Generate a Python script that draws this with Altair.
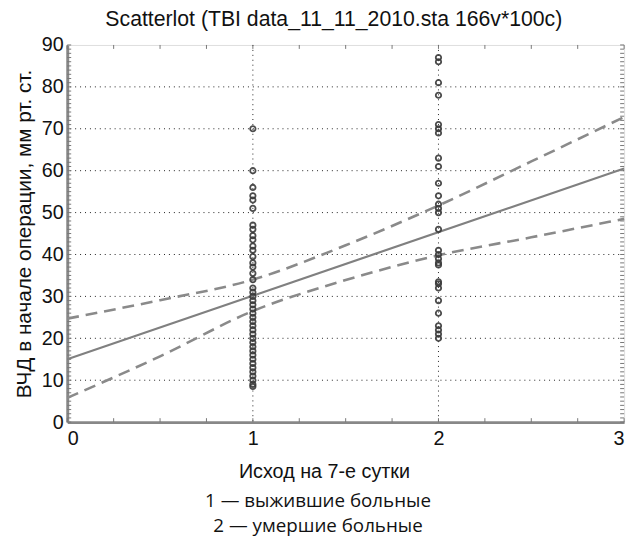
import altair as alt
import pandas as pd

# ---- data ----
survived = [70, 60, 56, 54, 53, 51, 47, 46, 44.5, 43.5, 42, 41, 39.5, 38, 37, 35.5,
            34, 32, 31, 30, 29, 28, 27, 26, 25, 24, 23, 22, 21, 20, 19, 18, 17,
            16, 15, 14, 13, 12, 11, 10, 9, 8.5]
died = [87, 86, 81, 78, 71, 70, 69, 63, 61, 57, 54, 52, 51, 50, 46, 41, 40, 39,
        38, 37.5, 33.5, 33, 32, 29, 26, 23, 22, 21, 20]
fit_x = [0, 3]
fit_y = [15.0, 60.5]
band_x = [0, 0.5, 1, 1.5, 2, 2.5, 3]
band_upper = [24.7, 29.1, 34.0, 42.2, 51.7, 62.2, 72.8]
band_lower = [5.8, 15.7, 26.5, 33.9, 39.8, 44.1, 48.5]
x_labels = [0, 1, 2, 3]
y_labels = [0, 10, 20, 30, 40, 50, 60, 70, 80, 90]
x_grid = [1, 2]
y_grid = [10, 20, 30, 40, 50, 60, 70, 80]
x_minor = [i * 0.25 for i in range(13)]
y_minor = list(range(0, 91))
caption1 = "1 — выжившие больные"
caption2 = "2 — умершие больные"

W, H = 564, 382
FONT = "Liberation Sans"

pts = pd.DataFrame({
    "x": [1] * len(survived) + [2] * len(died),
    "y": survived + died,
})
fit = pd.DataFrame({"x": fit_x, "y": fit_y})
band = pd.DataFrame({"x": band_x * 2, "y": band_upper + band_lower,
                     "b": ["u"] * len(band_x) + ["l"] * len(band_x)})

xs = alt.Scale(domain=[0, 3], nice=False, zero=False)
ys = alt.Scale(domain=[0, 90], nice=False, zero=False)

x_axis = alt.Axis(
    values=x_labels, title="Исход на 7-е сутки", grid=False, ticks=False,
    labelFontSize=20, labelFont=FONT, labelColor="#111", labelPadding=7,
    titleFont=FONT, titleFontSize=20, titleFontWeight="normal", titleColor="#111",
    titlePadding=13, titleX=260, domainColor="#888", domainWidth=3)
y_axis = alt.Axis(
    values=y_labels, title="ВЧД в начале операции, мм рт. ст.", grid=False, ticks=False,
    labelFontSize=20, labelFont=FONT, labelColor="#111", labelPadding=4,
    titleFont=FONT, titleFontSize=21, titleFontWeight="normal", titleColor="#111",
    titlePadding=7, domainColor="#888", domainWidth=3)

X = alt.X("x:Q", scale=xs, axis=x_axis)
Y = alt.Y("y:Q", scale=ys, axis=y_axis)

gx = alt.Chart(pd.DataFrame({"x": x_grid})).mark_rule(
    color="#222", strokeDash=[1, 4], strokeWidth=1
).encode(x=X)
gy = alt.Chart(pd.DataFrame({"y": y_grid})).mark_rule(
    color="#222", strokeDash=[1, 4], strokeWidth=1
).encode(y=Y)

tx_b = alt.Chart(pd.DataFrame({"x": x_minor})).mark_rule(color="#777", strokeWidth=1).encode(
    x=X, y=alt.value(H - 4), y2=alt.value(H))
tx_t = alt.Chart(pd.DataFrame({"x": x_minor})).mark_rule(color="#777", strokeWidth=1).encode(
    x=X, y=alt.value(0), y2=alt.value(4))
ty_l = alt.Chart(pd.DataFrame({"y": y_minor})).mark_rule(color="#777", strokeWidth=1).encode(
    y=Y, x=alt.value(0), x2=alt.value(4))
ty_r = alt.Chart(pd.DataFrame({"y": y_minor})).mark_rule(color="#777", strokeWidth=1).encode(
    y=Y, x=alt.value(W - 4), x2=alt.value(W))

bands = alt.Chart(band).mark_line(
    color="#8a8a8a", strokeWidth=2.6, strokeDash=[12, 7], interpolate="monotone"
).encode(x=X, y=Y, detail="b:N")
fitl = alt.Chart(fit).mark_line(color="#808080", strokeWidth=2.2).encode(x=X, y=Y)

points = alt.Chart(pts).mark_point(
    shape="circle", filled=False, size=30, color="#3a3a3a", strokeWidth=1.8, opacity=0.9
).encode(x=X, y=Y)

cap1 = alt.Chart(pd.DataFrame({"t": [caption1]})).mark_text(
    font="Open Sans", fontSize=19, color="#111", align="center", baseline="alphabetic"
).encode(text="t:N", x=alt.value(254), y=alt.value(H + 86))
cap2 = alt.Chart(pd.DataFrame({"t": [caption2]})).mark_text(
    font="Open Sans", fontSize=19, color="#111", align="center", baseline="alphabetic"
).encode(text="t:N", x=alt.value(254), y=alt.value(H + 111))

chart = alt.layer(gx, gy, tx_b, tx_t, ty_l, ty_r, bands, fitl, points, cap1, cap2).properties(
    width=W, height=H,
    title=alt.TitleParams("Scatterlot (TBI data_11_11_2010.sta 166v*100c)",
                          font=FONT, fontSize=21.5, fontWeight="normal", color="#111",
                          anchor="middle", dx=-12, offset=5),
    autosize=alt.AutoSizeParams(type="none"),
    padding={"left": 60, "top": 34, "right": 8, "bottom": 120},
).configure_view(stroke="#999", strokeWidth=2).configure(background="white")

chart.save("out.html", embed_options={"renderer": "svg", "actions": False})
